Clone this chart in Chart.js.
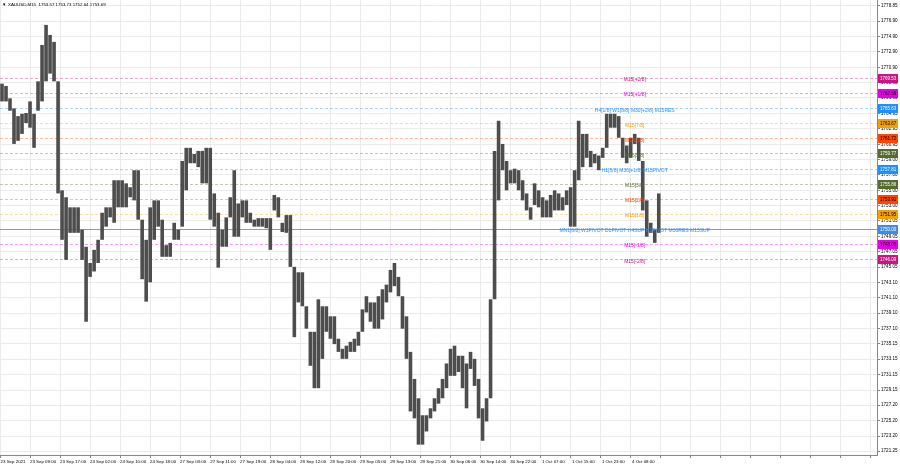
<!DOCTYPE html>
<html>
<head>
<meta charset="utf-8">
<script src="https://cdn.jsdelivr.net/npm/chart.js@4.4.0/dist/chart.umd.min.js"></script>
<style>
  html, body { margin: 0; padding: 0; background: #fff; }
  #wrap { width: 900px; height: 468px; position: relative; }
</style>
</head>
<body>
<div id="wrap"><canvas id="chart"></canvas></div>
<script>
// XAUUSD M15, one column = about 4 bars (high / low of the column)
const barHighs = [
  1768.8, 1768.5, 1766.9, 1765.6, 1764.6, 1764.9, 1765.0, 1766.5, 1764.9, 1769.1,
  1773.8, 1776.4, 1775.1, 1774.2, 1769.1, 1755.0, 1754.1, 1752.8, 1752.8, 1752.8,
  1749.9, 1747.7, 1745.6, 1747.3, 1748.6, 1752.1, 1752.8, 1752.8, 1756.3, 1756.3,
  1756.3, 1755.9, 1755.4, 1757.6, 1757.6, 1751.2, 1748.6, 1752.8, 1753.7, 1753.7,
  1751.2, 1747.9, 1748.2, 1750.8, 1749.9, 1758.8, 1760.5, 1760.5, 1759.7, 1760.1,
  1760.1, 1760.5, 1760.5, 1754.6, 1752.1, 1749.9, 1751.5, 1754.1, 1757.6, 1753.3,
  1753.7, 1753.7, 1752.1, 1751.2, 1751.4, 1751.4, 1751.4, 1751.4, 1754.4, 1754.1,
  1750.8, 1751.8, 1751.8, 1745.1, 1744.4, 1744.4, 1740.0, 1736.7, 1736.7, 1740.9,
  1740.0, 1740.0, 1738.7, 1738.7, 1735.8, 1734.5, 1734.9, 1735.4, 1735.8, 1736.7,
  1739.6, 1741.3, 1740.5, 1740.5, 1741.3, 1742.2, 1742.8, 1744.7, 1745.6, 1743.8,
  1741.3, 1738.7, 1734.1, 1730.6, 1728.1, 1725.9, 1725.9, 1726.8, 1728.1, 1729.4,
  1730.6, 1732.6, 1734.5, 1734.9, 1733.6, 1733.6, 1732.6, 1734.1, 1733.2, 1730.6,
  1726.8, 1728.1, 1740.9, 1760.1, 1764.0, 1761.0, 1758.8, 1757.6, 1757.8, 1757.6,
  1756.3, 1754.6, 1752.8, 1755.9, 1755.0, 1754.1, 1753.7, 1754.4, 1755.0, 1754.6,
  1754.1, 1755.0, 1755.4, 1757.6, 1764.0, 1762.3, 1762.3, 1760.1, 1759.7, 1759.5,
  1760.5, 1764.9, 1764.9, 1764.9, 1764.6, 1761.8, 1760.8, 1761.8, 1762.3, 1761.8,
  1758.8, 1753.7, 1750.8, 1749.9, 1754.6
];
const barLows = [
  1766.5, 1766.5, 1765.3, 1761.0, 1761.4, 1762.3, 1763.7, 1763.1, 1760.5, 1765.3,
  1766.5, 1769.1, 1770.1, 1769.1, 1754.6, 1748.6, 1746.0, 1749.5, 1749.5, 1749.5,
  1746.0, 1738.0, 1743.8, 1744.5, 1745.6, 1748.6, 1750.3, 1751.5, 1750.8, 1752.8,
  1752.8, 1752.8, 1754.1, 1753.7, 1751.2, 1743.5, 1740.6, 1743.1, 1748.6, 1750.3,
  1746.4, 1746.4, 1746.4, 1748.6, 1748.6, 1750.3, 1755.0, 1758.5, 1758.5, 1758.0,
  1755.9, 1755.9, 1751.2, 1750.3, 1745.0, 1747.7, 1747.7, 1751.5, 1749.0, 1749.0,
  1751.5, 1750.8, 1750.8, 1750.3, 1750.3, 1750.3, 1750.1, 1747.3, 1752.4, 1751.5,
  1749.6, 1749.5, 1745.1, 1736.0, 1740.5, 1740.0, 1737.1, 1732.3, 1729.4, 1729.4,
  1733.2, 1736.7, 1735.8, 1735.1, 1734.1, 1733.2, 1733.2, 1734.1, 1734.1, 1734.9,
  1736.7, 1739.2, 1738.0, 1737.1, 1737.1, 1738.3, 1740.5, 1741.8, 1742.6, 1741.3,
  1737.1, 1733.2, 1726.4, 1725.5, 1722.1, 1722.1, 1723.8, 1725.5, 1726.4, 1727.4,
  1728.1, 1729.4, 1731.0, 1731.0, 1731.5, 1729.4, 1726.8, 1731.9, 1729.7, 1725.5,
  1722.6, 1725.1, 1728.1, 1740.9, 1753.7, 1757.6, 1755.0, 1755.9, 1755.9, 1755.0,
  1753.7, 1752.4, 1751.2, 1753.1, 1752.8, 1751.5, 1751.5, 1751.5, 1752.4, 1752.4,
  1752.4, 1753.1, 1750.3, 1750.3, 1756.3, 1758.0, 1759.2, 1758.0, 1758.5, 1757.6,
  1759.2, 1760.5, 1763.1, 1763.1, 1761.8, 1759.2, 1758.5, 1759.2, 1761.0, 1758.8,
  1752.4, 1749.0, 1749.5, 1748.2, 1749.5
];
const totalSlots = 219;     // columns across the whole chart width
const visibleBars = 935;    // M15 bars across the chart width
const barsPerLabel = 32;

const dateLabels = [
  '23 Sep 2021', '23 Sep 09:00', '23 Sep 17:00', '24 Sep 02:00', '24 Sep 10:00',
  '24 Sep 18:00', '27 Sep 03:00', '27 Sep 11:00', '27 Sep 19:00', '28 Sep 04:00',
  '28 Sep 12:00', '28 Sep 20:00', '29 Sep 05:00', '29 Sep 13:00', '29 Sep 21:00',
  '30 Sep 06:00', '30 Sep 14:00', '30 Sep 22:00', '1 Oct 07:00', '1 Oct 15:00',
  '1 Oct 23:00', '4 Oct 08:00'
];
const yTickValues = [
  1721.25, 1723.20, 1725.20, 1727.20, 1729.15, 1731.15, 1733.15, 1735.15, 1737.10, 1739.10,
  1741.10, 1743.10, 1745.05, 1747.05, 1749.05, 1751.05, 1753.00, 1755.00, 1757.00, 1759.00,
  1760.95, 1762.95, 1764.95, 1766.95, 1768.95, 1770.90, 1772.90, 1774.90, 1776.90, 1778.85
];

// Murrey math / pivot levels
const levelValues = [1769.53, 1767.58, 1765.63, 1763.67, 1761.72, 1759.77, 1757.81,
                     1755.86, 1753.91, 1751.95, 1750.00, 1748.05, 1746.09];
const levelNames = ['M15[+2/8]', 'M15[+1/8]', 'H4[1/8] W1[8/8] M30[+2/8] M15RES', 'M15[7/8]',
                    'M15[6/8]', 'M15[5/8]', 'H1[5/8] M30[+1/8] M15PIVOT', 'M15[3/8]', 'M15[2/8]',
                    'M15[1/8]', 'MN1[6/8] W1PIVOT D1PIVOT H4SUP H1PIVOT M30RES M15SUP',
                    'M15[-1/8]', 'M15[-2/8]'];
const lastBar = [1753.57, 1753.73, 1752.64, 1753.69];
const symbolName = 'XAUUSD,M15';

// colours per level (text, tag)
const levelColors = ['#c71585', '#e600e6', '#1e90ff', '#f5a000', '#ff4500', '#556b2f', '#1e90ff',
                     '#556b2f', '#ff4500', '#f5a000', '#3d8ee8', '#e600e6', '#c71585'];
const tagTextColors = ['#fff', '#000', '#fff', '#000', '#000', '#fff', '#fff',
                       '#fff', '#000', '#000', '#fff', '#000', '#fff'];
const labelSlot = 158;   // column where level texts are centred

const smallFont = { family: 'Liberation Sans, Arial, sans-serif', size: 4.4 };

const barData = [];
for (let i = 0; i < totalSlots; i++) {
  barData.push(i < barHighs.length ? [barLows[i], barHighs[i]] : null);
}

const levelsPlugin = {
  id: 'levels',
  beforeDatasetsDraw(chart) {
    const { ctx, chartArea: a, scales: { y } } = chart;
    ctx.save();
    levelValues.forEach((v, i) => {
      const py = Math.round(y.getPixelForValue(v)) + 0.5;
      ctx.beginPath();
      if (v === 1750.00) {
        // the main pivot is a solid line
        ctx.setLineDash([]);
        ctx.strokeStyle = 'rgb(110,160,232)';
      } else {
        ctx.setLineDash([3, 2]);
        ctx.strokeStyle = levelColors[i] + '60';
      }
      ctx.lineWidth = 1;
      ctx.moveTo(a.left, py);
      ctx.lineTo(a.right, py);
      ctx.stroke();
    });
    ctx.restore();
  },
  afterDatasetsDraw(chart) {
    const { ctx, scales: { x, y } } = chart;
    ctx.save();
    ctx.font = '5px "Liberation Sans", Arial, sans-serif';
    ctx.textAlign = 'center';
    ctx.textBaseline = 'middle';
    const cx = x.getPixelForValue(labelSlot);
    levelValues.forEach((v, i) => {
      ctx.fillStyle = levelColors[i];
      ctx.fillText(levelNames[i], cx, y.getPixelForValue(v) + 2);
    });
    ctx.restore();
  },
  afterDraw(chart) {
    const { ctx, chartArea: a, scales: { y } } = chart;
    ctx.save();
    ctx.font = '4.5px "Liberation Sans", Arial, sans-serif';
    ctx.textBaseline = 'middle';
    levelValues.forEach((v, i) => {
      const py = Math.round(y.getPixelForValue(v));
      ctx.fillStyle = levelColors[i];
      ctx.fillRect(a.right + 1, py - 4, 20, 9);
      ctx.fillStyle = tagTextColors[i];
      ctx.textAlign = 'left';
      ctx.fillText(v.toFixed(2), a.right + 3, py + 0.5);
    });
    // symbol header
    ctx.fillStyle = '#000';
    ctx.font = '4.4px "Liberation Sans", Arial, sans-serif';
    ctx.fillText('\u25BC', a.left + 2, a.top + 5);
    ctx.fillText(symbolName + '  ' + lastBar.map(p => p.toFixed(2)).join(' '), a.left + 8, a.top + 5);
    ctx.restore();
  }
};

new Chart(document.getElementById('chart'), {
  type: 'bar',
  data: {
    labels: Array.from({ length: totalSlots }, (_, i) => i),
    datasets: [{
      data: barData,
      xAxisID: 'x',
      yAxisID: 'y',
      backgroundColor: '#4d4d4d',
      borderWidth: 0,
      barPercentage: 0.9,
      categoryPercentage: 1
    }]
  },
  options: {
    responsive: true,
    maintainAspectRatio: false,
    animation: false,
    events: [],
    layout: { padding: 0 },
    plugins: { legend: { display: false }, tooltip: { enabled: false }, title: { display: false } },
    scales: {
      x: { type: 'category', display: false, offset: true },
      xt: {
        type: 'linear',
        position: 'bottom',
        min: 0,
        max: visibleBars,
        offset: false,
        afterBuildTicks: s => {
          s.ticks = [];
          for (let v = 0; v < visibleBars; v += barsPerLabel) s.ticks.push({ value: v });
        },
        afterFit: s => { s.height = 13; s.paddingLeft = 0; s.paddingRight = 0; },
        ticks: {
          callback: (v, i) => dateLabels[i] || '',
          maxRotation: 0,
          autoSkip: false,
          labelOffset: 13,
          font: smallFont,
          color: '#000',
          padding: 1
        },
        grid: { color: '#ebebeb', offset: false, tickLength: 3, tickColor: '#888' },
        border: { color: '#888' }
      },
      y: {
        position: 'right',
        min: 1720.76,
        max: 1779.62,
        afterBuildTicks: s => { s.ticks = yTickValues.map(v => ({ value: v })); },
        afterFit: s => { s.width = 23; s.paddingTop = 0; s.paddingBottom = 0; },
        ticks: {
          callback: v => v.toFixed(2),
          autoSkip: false,
          font: { family: 'Liberation Sans, Arial, sans-serif', size: 4.6 },
          color: '#000',
          padding: 1
        },
        grid: { color: '#ebebeb', tickLength: 3, tickColor: '#888' },
        border: { color: '#888' }
      }
    }
  },
  plugins: [levelsPlugin]
});
</script>
</body>
</html>
